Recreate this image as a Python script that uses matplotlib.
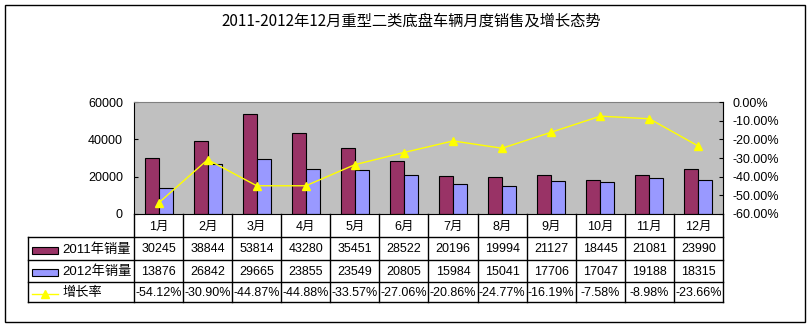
import numpy as np
import matplotlib.pyplot as plt
from matplotlib.lines import Line2D
from matplotlib.patches import Rectangle

months = ['1月', '2月', '3月', '4月', '5月', '6月', '7月', '8月', '9月', '10月', '11月', '12月']
sales_2011 = [30245, 38844, 53814, 43280, 35451, 28522, 20196, 19994, 21127, 18445, 21081, 23990]
sales_2012 = [13876, 26842, 29665, 23855, 23549, 20805, 15984, 15041, 17706, 17047, 19188, 18315]
growth = [-54.12, -30.90, -44.87, -44.88, -33.57, -27.06, -20.86, -24.77, -16.19, -7.58, -8.98, -23.66]
series_names = ['2011年销量', '2012年销量', '增长率']
title = '2011-2012年12月重型二类底盘车辆月度销售及增长态势'

plt.rcParams['font.family'] = ['Liberation Sans', 'Noto Sans CJK SC']
W, H = 812, 328
fig = plt.figure(figsize=(W / 100, H / 100), dpi=100)

def fx(px):
    return px / W

def fy(py):
    return 1 - py / H

# outer border
fig.add_artist(Rectangle((fx(5), fy(322)), fx(800), (322 - 5) / H, transform=fig.transFigure,
                         fill=False, ec='black', lw=1))
fig.text(fx(411), fy(21), title, ha='center', va='center', fontsize=11,
         family=['Noto Sans CJK SC', 'DejaVu Sans'])

L, R, T, B = 134, 723, 102, 214
ax = fig.add_axes([fx(L), fy(B), fx(R - L), (B - T) / H])
ax.set_facecolor('#C0C0C0')
x = np.arange(len(months))
bw = 0.285
ax.bar(x - bw / 2, sales_2011, bw, color='#993366', edgecolor='black', lw=0.8)
ax.bar(x + bw / 2, sales_2012, bw, color='#9999FF', edgecolor='black', lw=0.8)
ax.set_xlim(-0.5, len(months) - 0.5)
ax.set_ylim(0, 60000)
ax.set_yticks([0, 20000, 40000, 60000])
ax.set_yticklabels(['0', '20000', '40000', '60000'], fontsize=9)
ax.set_xticks([])
ax.tick_params(axis='y', direction='in', length=3, pad=8)
for s in ['top', 'right']:
    ax.spines[s].set_color('#808080')
ax.spines['left'].set_color('black')
ax.spines['bottom'].set_color('black')

ax2 = ax.twinx()
ax2.plot(x, np.array(growth) / 100, color='#FFFF00', lw=1, marker='^', ms=6, mec='#FFFF00')
ax2.set_ylim(-0.6, 0)
ticks = np.arange(-0.6, 0.01, 0.1)
ax2.set_yticks(ticks)
ax2.set_yticklabels(['%.2f%%' % (t * 100 + 0.0) if abs(t) > 1e-9 else '0.00%' for t in ticks], fontsize=9)
ax2.tick_params(axis='y', direction='in', length=3, pad=7)
ax2.spines['right'].set_color('black')
for s in ['top', 'left', 'bottom']:
    ax2.spines[s].set_visible(False)

# data table below the plot
rows = [214, 237, 260, 282, 302]
col_px = L + (R - L) * (np.arange(len(months) + 1)) / len(months)
lk = dict(transform=fig.transFigure, color='black', lw=1)
for yy in rows[1:]:
    fig.add_artist(Line2D([fx(28), fx(R)], [fy(yy), fy(yy)], **lk))
for c in col_px:
    fig.add_artist(Line2D([fx(c), fx(c)], [fy(214), fy(302)], **lk))
fig.add_artist(Line2D([fx(28), fx(28)], [fy(237), fy(302)], **lk))

cx = (col_px[:-1] + col_px[1:]) / 2
table = [months, [str(v) for v in sales_2011], [str(v) for v in sales_2012],
         ['%.2f%%' % v for v in growth]]
for r, vals in enumerate(table):
    yc = (rows[r] + rows[r + 1]) / 2 + 1
    for c, v in zip(cx, vals):
        fig.text(fx(c), fy(yc), v, ha='center', va='center', fontsize=9)

# legend keys in the first column
fig.add_artist(Rectangle((fx(32), fy(254)), fx(26), 7 / H, transform=fig.transFigure,
                         fc='#993366', ec='black', lw=0.8))
fig.add_artist(Rectangle((fx(32), fy(276)), fx(26), 7 / H, transform=fig.transFigure,
                         fc='#9999FF', ec='black', lw=0.8))
fig.add_artist(Line2D([fx(32), fx(58)], [fy(294), fy(294)], transform=fig.transFigure,
                      color='#FFFF00', lw=1))
fig.add_artist(Line2D([fx(45)], [fy(294)], transform=fig.transFigure, color='#FFFF00',
                      marker='^', ms=6, mec='#FFFF00'))
for r, name in enumerate(series_names):
    yc = (rows[r + 1] + rows[r + 2]) / 2 + 1
    fig.text(fx(62), fy(yc), name, ha='left', va='center', fontsize=9.5)

fig.savefig('out.png', dpi=100)
